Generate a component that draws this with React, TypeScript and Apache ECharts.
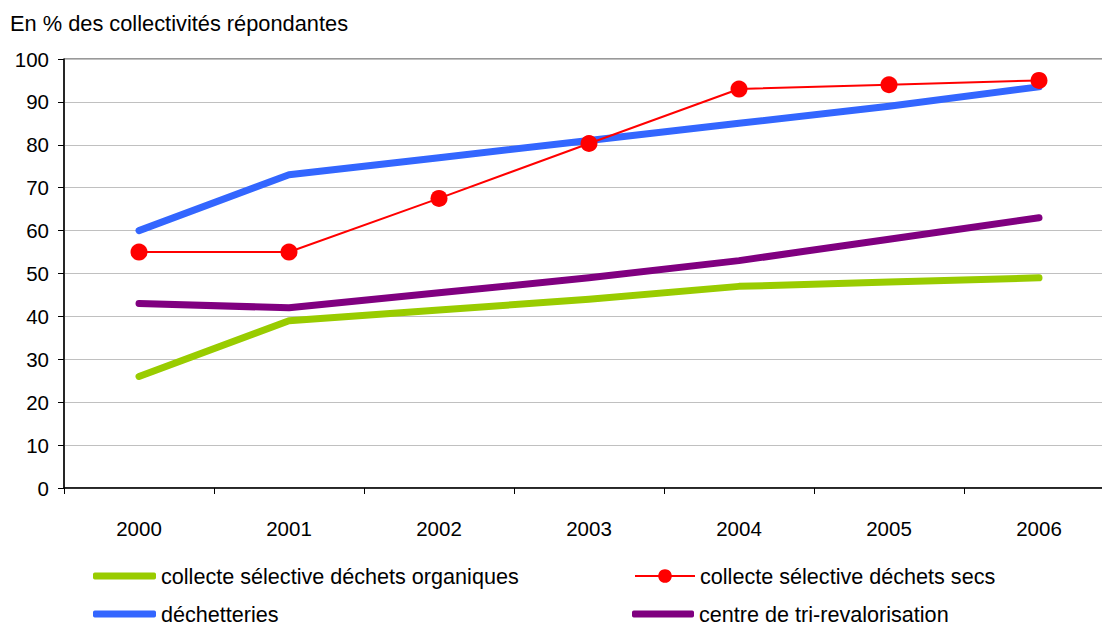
import React, { useEffect, useRef } from "react";
import * as echarts from "echarts";

const years = ["2000", "2001", "2002", "2003", "2004", "2005", "2006"];
const organiques = [26, 39, 41.5, 44, 47, 48, 49];
const secs = [55, 55, 67.5, 80.3, 93, 94, 95];
const dechetteries = [60, 73, 77, 81, 85, 89, 93.5];
const centreTri = [43, 42, 45.5, 49, 53, 58, 63];

const names = [
  "collecte sélective déchets organiques",
  "collecte sélective déchets secs",
  "déchetteries",
  "centre de tri-revalorisation",
];

const FONT = "'Liberation Sans', Arial, sans-serif";

export default function App() {
  const ref = useRef<HTMLDivElement>(null);
  useEffect(() => {
    const chart = echarts.init(ref.current!, null, { renderer: "svg" });
    const textStyle = { fontFamily: FONT, fontSize: 21.6, color: "#000" };
    const legendBase = {
      orient: "horizontal" as const,
      textStyle,
      itemGap: 0,
      selectedMode: false,
      padding: 0,
    };
    chart.setOption({
      animation: false,
      textStyle: { fontFamily: FONT },
      title: {
        text: "En % des collectivités répondantes",
        left: 10,
        top: 12,
        padding: 0,
        textStyle: { fontFamily: FONT, fontSize: 21.8, fontWeight: "normal", color: "#000" },
      },
      grid: {
        left: 64,
        right: 0,
        top: 59,
        bottom: 138,
        show: true,
        borderColor: "#333",
        borderWidth: 1,
      },
      legend: [
        {
          ...legendBase,
          data: [{ name: names[0], icon: "roundRect" }],
          left: 93,
          top: 565,
          itemWidth: 63,
          itemHeight: 7,
        },
        {
          ...legendBase,
          data: [{ name: names[2], icon: "roundRect" }],
          left: 93,
          top: 603,
          itemWidth: 63,
          itemHeight: 7,
        },
        {
          ...legendBase,
          data: [{ name: names[1] }],
          left: 634,
          top: 565,
          itemWidth: 60,
          itemHeight: 17,
        },
        {
          ...legendBase,
          data: [{ name: names[3], icon: "roundRect" }],
          left: 632,
          top: 603,
          itemWidth: 62,
          itemHeight: 7,
        },
      ],
      xAxis: {
        type: "category",
        data: years,
        boundaryGap: true,
        axisLine: { lineStyle: { color: "#000", width: 1.5 } },
        axisTick: { show: true, length: 6, lineStyle: { color: "#000" } },
        axisLabel: { margin: 30, fontSize: 20.5, color: "#000", fontFamily: FONT },
      },
      yAxis: {
        type: "value",
        min: 0,
        max: 100,
        interval: 10,
        axisLine: { show: true, lineStyle: { color: "#000", width: 1.5 } },
        axisTick: { show: true, length: 6, lineStyle: { color: "#000" } },
        axisLabel: { margin: 15, fontSize: 20.5, color: "#000", fontFamily: FONT },
        splitLine: { show: true, lineStyle: { color: "#c0c0c0", width: 1 } },
      },
      series: [
        {
          name: names[0],
          type: "line",
          data: organiques,
          symbol: "none",
          lineStyle: { color: "#99cc00", width: 7, cap: "round", join: "round" },
          itemStyle: { color: "#99cc00" },
          z: 2,
        },
        {
          name: names[3],
          type: "line",
          data: centreTri,
          symbol: "none",
          lineStyle: { color: "#800080", width: 7, cap: "round", join: "round" },
          itemStyle: { color: "#800080" },
          z: 2,
        },
        {
          name: names[2],
          type: "line",
          data: dechetteries,
          symbol: "none",
          lineStyle: { color: "#3366ff", width: 7, cap: "round", join: "round" },
          itemStyle: { color: "#3366ff" },
          z: 3,
        },
        {
          name: names[1],
          type: "line",
          data: secs,
          symbol: "circle",
          symbolSize: 17,
          lineStyle: { color: "#ff0000", width: 2 },
          itemStyle: { color: "#ff0000" },
          z: 4,
        },
      ],
    });
    return () => chart.dispose();
  }, []);
  return (
    <div
      style={{
        position: "absolute",
        left: 0,
        top: 0,
        width: 1102,
        height: 626,
        overflow: "hidden",
        background: "#fff",
      }}
    >
      <div ref={ref} style={{ width: 1114, height: 626 }} />
    </div>
  );
}
